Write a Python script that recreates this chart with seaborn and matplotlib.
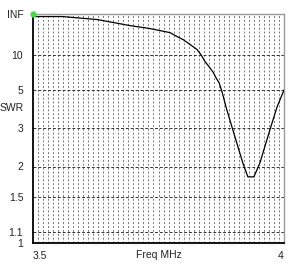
import numpy as np
import pandas as pd
import matplotlib
matplotlib.use("Agg")
import matplotlib.pyplot as plt
from matplotlib.ticker import MultipleLocator, FixedLocator
import matplotlib.transforms as mtransforms
import seaborn as sns

# data
freq = [3.500, 3.558, 3.628, 3.693, 3.733, 3.773, 3.785, 3.799, 3.813, 3.827,
        3.835, 3.843, 3.851, 3.859, 3.865, 3.871, 3.877, 3.885, 3.898, 3.918,
        3.928, 3.940, 3.952, 3.972, 3.986, 4.000]
swr = [150, 150, 75, 37, 29.5, 23, 19.4, 16.6, 13.8, 11.7,
       10.05, 8.5, 7.6, 6.8, 6.1, 5.6, 4.8, 3.86, 2.95, 2.07,
       1.81, 1.81, 2.07, 2.95, 3.9, 5.0]
swr_ticks = [1, 1.1, 1.5, 2, 3, 5, 10]
swr_tick_labels = ["1", "1.1", "1.5", "2", "3", "5", "10"]
x_tick_vals = [3.5, 4.0]
x_tick_labels = ["3.5", "4"]


def to_rho(s):
    s = np.asarray(s, dtype=float)
    return (s - 1.0) / (s + 1.0)


sns.set_style("white")
plt.rcParams['font.family'] = ['Liberation Sans', 'DejaVu Sans']

fig = plt.figure(figsize=(3.0, 2.7), dpi=100)
ax = fig.add_axes([33/300, 27/270, 251/300, 229.5/270])

df = pd.DataFrame({"freq": freq, "rho": to_rho(swr)})
sns.lineplot(data=df, x="freq", y="rho", ax=ax, color="black", linewidth=0.9,
             estimator=None, sort=False, zorder=5)

ax.set_xlim(3.5, 4.0)
ax.set_ylim(0, 1)

# y ticks (reflection-coefficient scale labelled in SWR)
yt = list(to_rho(swr_ticks)) + [1.0]
ax.yaxis.set_major_locator(FixedLocator(yt))
ax.set_yticklabels(swr_tick_labels + ["INF"])
ax.xaxis.set_major_locator(FixedLocator(x_tick_vals))
ax.set_xticklabels(x_tick_labels)
labs = ax.get_xticklabels()
labs[0].set_ha("left")
labs[1].set_ha("right")
ax.xaxis.set_minor_locator(MultipleLocator(0.01))

ax.tick_params(axis="both", which="both", length=0, labelsize=7.5, colors="#222222")
ax.tick_params(axis="y", pad=7)
ax.tick_params(axis="x", pad=6)

# grids
ax.grid(False)
ax.grid(which="minor", axis="x", color="#777777", linewidth=0.7, linestyle=(0, (2, 2)))
ax.grid(which="major", axis="y", color="#333333", linewidth=0.7, linestyle=(0, (3, 2)))

# spines
for s in ["left", "bottom"]:
    ax.spines[s].set_color("black")
    ax.spines[s].set_linewidth(1.3)
for s in ["top", "right"]:
    ax.spines[s].set_color("#999999")
    ax.spines[s].set_linewidth(1.0)
    ax.spines[s].set_visible(True)

ax.set_xlabel("")
ax.set_ylabel("")
ax.text(0.5, -0.052, "Freq MHz", transform=ax.transAxes, ha="center", va="center",
        fontsize=7.5, color="#222222")
trans = mtransforms.blended_transform_factory(ax.transAxes, ax.transData)
ax.text(-0.036, float(to_rho(4.0)) - 0.01, "SWR", transform=trans, ha="right", va="center",
        fontsize=7.5, color="#222222")

# green start marker
ax.plot([freq[0]], [1.0], marker="o", markersize=3.5, color="#44dd44",
        clip_on=False, zorder=6, linestyle="none")

fig.savefig("out.png", dpi=100)
